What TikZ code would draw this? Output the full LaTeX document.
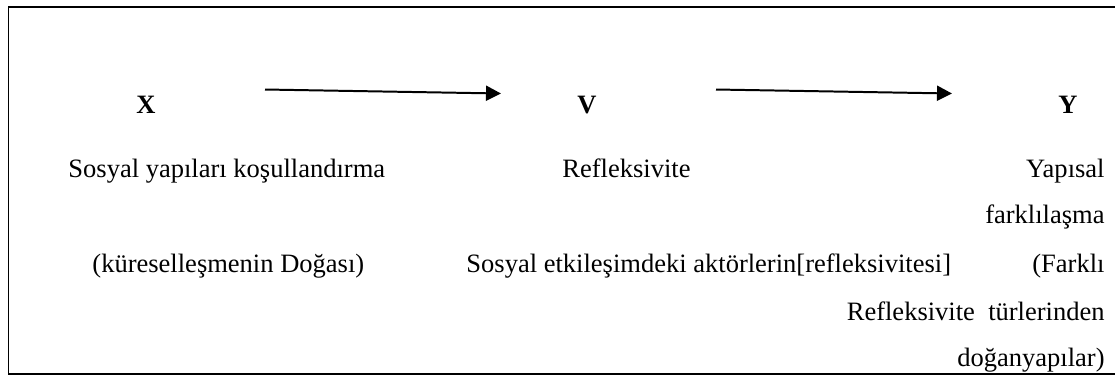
\documentclass[tikz,border=0pt]{standalone}
\usepackage{fontspec}
\setmainfont{Liberation Serif}
\usetikzlibrary{arrows.meta}

\begin{document}
\begin{tikzpicture}[x=0.4525pt, y=-0.4525pt,
	txt/.style={inner sep=0pt, font=\fontsize{12}{14}\selectfont},
	var/.style={txt, font=\fontsize{12}{14}\selectfont\bfseries},
	flow/.style={line width=0.9pt, -{Triangle[length=6.8pt, width=6.8pt]}}]
		\useasboundingbox (0, 0) rectangle (1115, 379);
		\draw[line width=0.9pt] (1115, 7) -- (8.5, 7) -- (8.5, 374) -- (1115, 374);
		\node[var, anchor=base] (x) at (146, 113) {X};
		\node[var, anchor=base] (v) at (587, 113) {V};
		\node[var, anchor=base] (y) at (1068, 113) {Y};
		\coordinate (xv1) at (265, 89.5);
		\coordinate (xv2) at (501, 93.5);
		\coordinate (vy1) at (716, 89.5);
		\coordinate (vy2) at (952, 93.5);
		\draw[flow] (xv1) -- (xv2);
		\draw[flow] (vy1) -- (vy2);
		\node[txt, anchor=base west] (kosul) at (68, 177) {Sosyal yapıları koşullandırma};
		\node[txt, anchor=base west] (doga) at (92, 272) {(küreselleşmenin Doğası)};
		\node[txt, anchor=base west] (refl) at (562, 177) {Refleksivite};
		\node[txt, anchor=base west] (aktor) at (466, 272) {Sosyal etkileşimdeki aktörlerin[refleksivitesi]};
		\node[txt, anchor=base east] (yap) at (1105, 177) {Yapısal};
		\node[txt, anchor=base east] (fark) at (1105, 223) {farklılaşma};
		\node[txt, anchor=base east] (farkli) at (1105, 272) {(Farklı};
		\node[txt, anchor=base east] (tur) at (1105, 320) {Refleksivite\ \ türlerinden};
		\node[txt, anchor=base east] (dogan) at (1105, 366) {doğanyapılar)};
	\end{tikzpicture}
\end{document}
